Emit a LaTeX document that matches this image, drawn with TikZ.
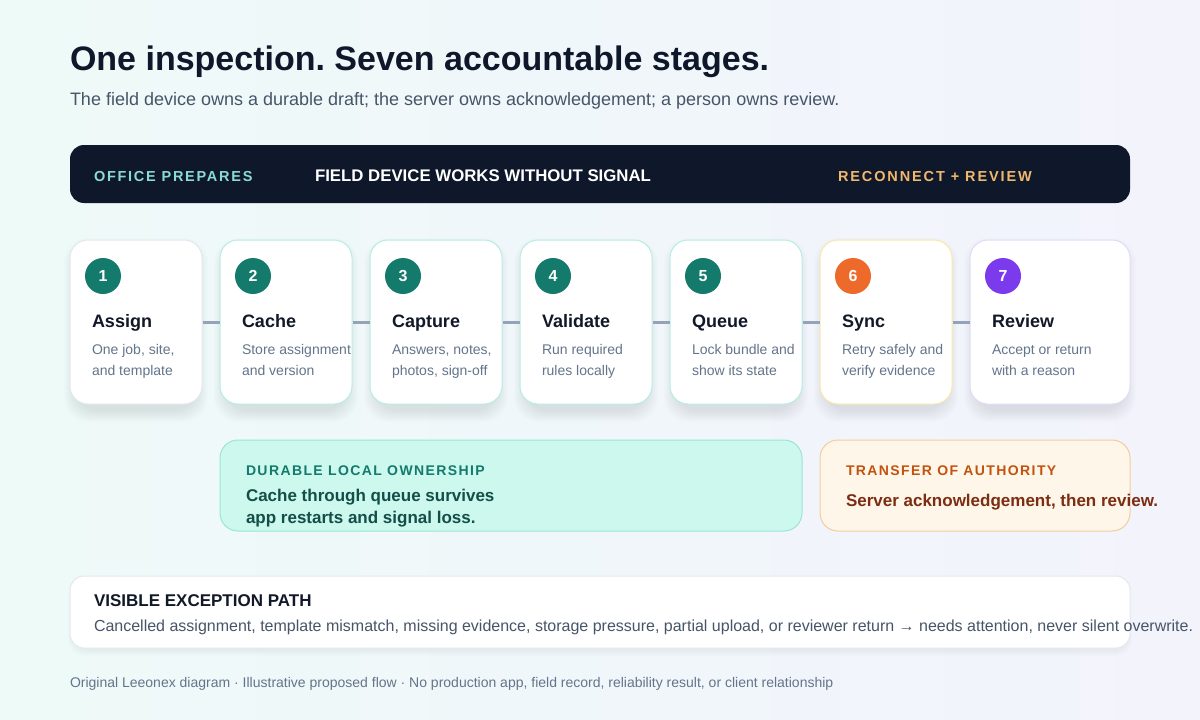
\documentclass[tikz,border=0pt]{standalone}
\usepackage{fontspec}
\setmainfont{Liberation Sans}
\frenchspacing
\newcommand\fsz[1]{\fontsize{#1}{#1}\selectfont}
\newcommand\trk[1]{\addfontfeature{LetterSpace=#1}}
\definecolor{bgL}{HTML}{EEFAF8}
\definecolor{bgR}{HTML}{F3F3FC}
\definecolor{navy}{HTML}{0F172A}
\definecolor{ink}{HTML}{111827}
\definecolor{subg}{HTML}{475569}
\definecolor{mutg}{HTML}{64748B}
\definecolor{lblTeal}{HTML}{8ADCD3}
\definecolor{lblOrg}{HTML}{F0B86E}
\definecolor{chipTeal}{HTML}{137A6C}
\definecolor{chipOrange}{HTML}{EE6A2B}
\definecolor{chipPurple}{HTML}{7C3AED}
\definecolor{brdGrey}{HTML}{E2E8F0}
\definecolor{brdTeal}{HTML}{B5EEE3}
\definecolor{brdYellow}{HTML}{FBE7A6}
\definecolor{brdLav}{HTML}{E0DCF7}
\definecolor{connG}{HTML}{94A3B8}
\definecolor{durFill}{HTML}{CCF8EE}
\definecolor{durBrd}{HTML}{99E6D6}
\definecolor{durLbl}{HTML}{137A6C}
\definecolor{durTxt}{HTML}{134E48}
\definecolor{trFill}{HTML}{FFF6EA}
\definecolor{trBrd}{HTML}{F5CB9C}
\definecolor{trLbl}{HTML}{C2530F}
\definecolor{trTxt}{HTML}{7C2D12}
\definecolor{shadowC}{HTML}{334155}
\begin{document}
\begin{tikzpicture}[x=1pt,y=-1pt,
  txt/.style={anchor=base west, inner sep=0pt, outer sep=0pt},
  stagecard/.style={draw=#1, fill=white, rounded corners=18pt, minimum height=164pt, line width=1pt, inner sep=0pt},
  chip/.style={circle, fill=#1, minimum size=36pt, inner sep=0pt, text=white, font=\bfseries\fsz{16}},
  conn/.style={draw=connG, line width=3pt},
  panel/.style={rounded corners=18pt, line width=1pt, inner sep=0pt},
  shadowlayer/.style={fill=shadowC, opacity=0.008, rounded corners=24pt}
]
\shade[left color=bgL, right color=bgR] (0,0) rectangle (1200,720);
\path[use as bounding box] (0,0) rectangle (1200,720);

% title
\node[txt, text=navy, font=\bfseries\fsz{34}] (title) at (70,70) {One inspection. Seven accountable stages.};
\node[txt, text=subg, font=\fsz{18}] (subtitle) at (70,105) {The field device owns a durable draft; the server owns acknowledgement; a person owns review.};

% band
\node[panel, rounded corners=14pt, fill=navy, minimum width=1060pt, minimum height=58pt] (band) at (600,174) {};
\node[txt, text=lblTeal, font=\bfseries\fsz{14.5}\trk{12}] (bandA) at (94,181) {OFFICE PREPARES};
\node[txt, text=white, font=\bfseries\fsz{16.8}] (bandB) at (315,181) {FIELD DEVICE WORKS WITHOUT SIGNAL};
\node[txt, text=lblOrg, font=\bfseries\fsz{14.5}\trk{13}] (bandC) at (838,181) {RECONNECT + REVIEW};

% cards
\foreach \i/\t/\a/\b/\bc/\cc in {
  1/Assign/{One job, site,}/{and template}/brdGrey/chipTeal,
  2/Cache/{Store assignment}/{and version}/brdTeal/chipTeal,
  3/Capture/{Answers, notes,}/{photos, sign-off}/brdTeal/chipTeal,
  4/Validate/{Run required}/{rules locally}/brdTeal/chipTeal,
  5/Queue/{Lock bundle and}/{show its state}/brdTeal/chipTeal,
  6/Sync/{Retry safely and}/{verify evidence}/brdYellow/chipOrange,
  7/Review/{Accept or return}/{with a reason}/brdLav/chipPurple}{
  \pgfmathsetmacro\lx{70+150*(\i-1)}
  \pgfmathsetmacro\cw{\i==7 ? 160 : 132}
  \foreach \k in {1,...,12}{
    \fill[shadowlayer] (\lx+6-\k,240+10-\k) rectangle (\lx+\cw-6+\k,404+6+\k);
  }
  \node[stagecard=\bc, minimum width=\cw pt] (c\i) at (\lx+\cw/2,322) {};
  \node[chip=\cc] (n\i) at (\lx+33,276) {\i};
  \node[txt, text=ink, font=\bfseries\fsz{18}] (t\i) at (\lx+22,327) {\t};
  \node[txt, text=mutg, font=\fsz{14}] (da\i) at (\lx+22,354) {\a};
  \node[txt, text=mutg, font=\fsz{14}] (db\i) at (\lx+22,375) {\b};
}
\foreach \i [evaluate=\i as \j using int(\i+1)] in {1,...,6}{
  \draw[conn] (c\i.east) -- (c\j.west);
}

% durable
\node[panel, draw=durBrd, fill=durFill, minimum width=582pt, minimum height=91pt] (dur) at (511,485.5) {};
\node[txt, text=durLbl, font=\bfseries\fsz{14}\trk{10}] (durL) at (246,475) {DURABLE LOCAL OWNERSHIP};
\node[txt, text=durTxt, font=\bfseries\fsz{17}] (durA) at (246,501) {Cache through queue survives};
\node[txt, text=durTxt, font=\bfseries\fsz{17}] (durB) at (246,523) {app restarts and signal loss.};

% transfer
\node[panel, draw=trBrd, fill=trFill, minimum width=310pt, minimum height=91pt] (tr) at (975,485.5) {};
\node[txt, text=trLbl, font=\bfseries\fsz{14}\trk{10}] (trL) at (846,475) {TRANSFER OF AUTHORITY};
\node[txt, text=trTxt, font=\bfseries\fsz{17}] (trA) at (846,506) {Server acknowledgement, then review.};

% exception
\foreach \k in {1,...,6}{
  \fill[shadowlayer, opacity=0.008, rounded corners=16pt] (74-\k,582-\k) rectangle (1126+\k,650+\k);
}
\node[panel, rounded corners=14pt, draw=brdGrey, fill=white, minimum width=1060pt, minimum height=72pt] (exc) at (600,612) {};
\node[txt, text=ink, font=\bfseries\fsz{17}] (excL) at (94,606) {VISIBLE EXCEPTION PATH};
\node[txt, text=subg, font=\fsz{16}] (excA) at (94,631) {Cancelled assignment, template mismatch, missing evidence, storage pressure, partial upload, or reviewer return → needs attention, never silent overwrite.};

% footer
\node[txt, text=mutg, font=\fsz{14}] (foot) at (70,687) {Original Leeonex diagram · Illustrative proposed flow · No production app, field record, reliability result, or client relationship};
\end{tikzpicture}
\end{document}
